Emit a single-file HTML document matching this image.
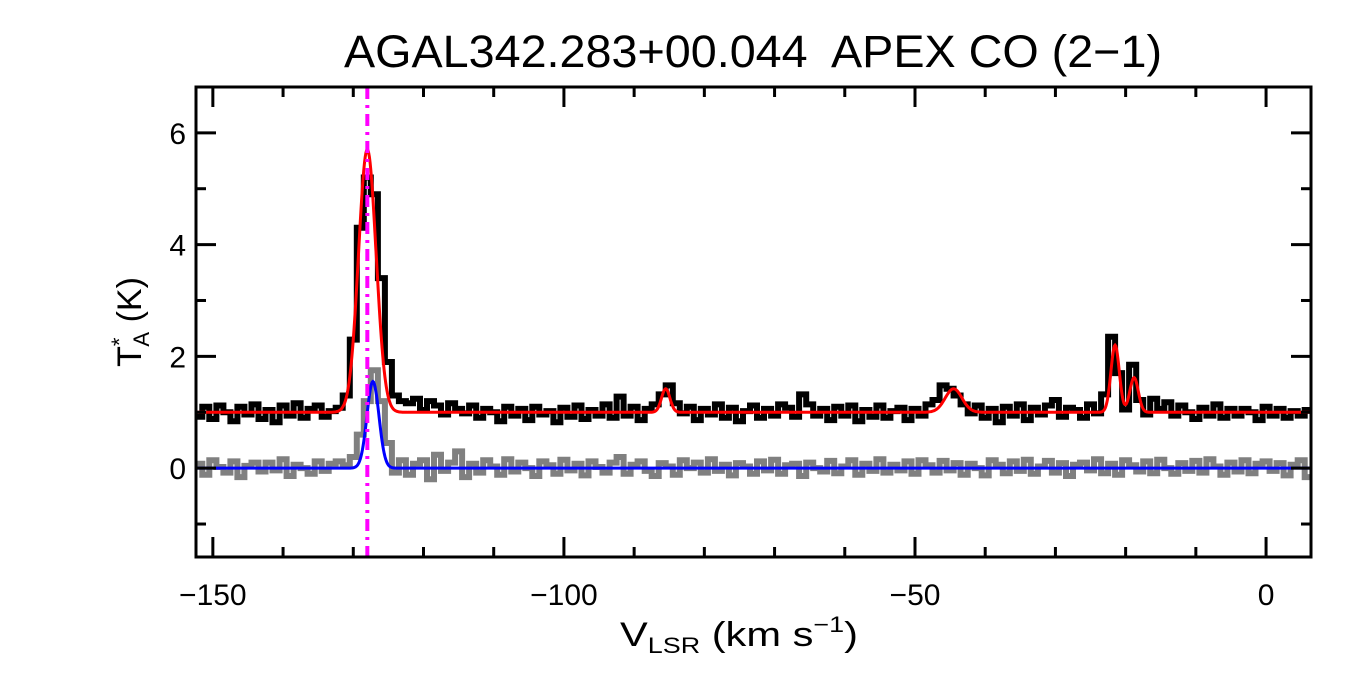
<!DOCTYPE html>
<html><head><meta charset="utf-8"><style>
body{margin:0;background:#fff;}
svg text{font-family:"Liberation Sans",sans-serif;fill:#000;white-space:pre;}
</style></head><body>
<svg id="chart" width="1350" height="675" xmlns="http://www.w3.org/2000/svg" xml:space="preserve">
<text x="753" y="67" font-size="45" text-anchor="middle" textLength="818" lengthAdjust="spacingAndGlyphs">AGAL342.283+00.044  APEX CO (2−1)</text>
<g id="plot"></g>
<text x="620" y="646" font-size="34" textLength="238" lengthAdjust="spacingAndGlyphs">V<tspan font-size="22" dy="7">LSR</tspan><tspan dy="-7"> (km s</tspan><tspan font-size="22" dy="-14">−1</tspan><tspan dy="14">)</tspan></text>
<g transform="translate(141,322) rotate(-90)"><text x="0" y="0" font-size="34" text-anchor="middle">T<tspan font-size="22" dy="-14">*</tspan><tspan font-size="22" dx="-9" dy="22">A</tspan><tspan dy="-8"> (K)</tspan></text></g>
</svg>
<script>
const vStart = -152, vStep = 1;
const blackSpec = [0.92,1.1,0.88,1.12,1.0,0.84,1.1,0.96,1.14,0.88,
1.04,0.82,1.12,0.94,1.16,0.9,1.06,1.12,0.92,1.02,
1.08,1.3,2.3,4.3,5.2,4.9,3.4,1.9,1.3,1.2,
1.16,1.24,1.04,1.2,1.12,0.96,1.16,1.06,0.98,1.12,
0.9,1.06,1.0,0.84,1.1,0.94,1.06,0.86,1.1,0.96,
1.02,0.82,1.08,0.92,1.12,0.88,1.04,0.94,1.14,0.9,
1.28,0.94,1.1,0.86,1.06,1.14,1.32,1.48,1.16,0.98,
1.1,0.86,1.06,0.96,1.14,0.9,1.08,0.84,1.02,1.12,
0.9,1.06,0.94,1.14,1.08,0.92,1.32,1.14,0.94,1.06,
0.86,1.1,0.94,1.12,0.84,1.04,0.92,1.12,0.9,1.02,
1.08,0.86,1.06,0.94,1.14,1.22,1.48,1.42,1.3,1.14,
0.98,1.12,0.9,1.06,0.82,1.1,0.94,1.14,0.86,1.08,
0.96,1.12,1.22,0.92,1.08,1.04,0.9,1.14,0.98,1.32,
2.35,1.7,1.05,1.85,1.22,0.96,1.24,1.06,1.18,0.94,
1.12,1.0,0.88,1.08,0.94,1.14,0.9,1.06,0.94,1.06,
1.0,0.86,1.1,0.94,1.06,0.9,1.02,0.94,1.04];
const graySpec = [0.08,-0.12,0.14,0.02,-0.08,0.12,-0.16,0.04,0.1,-0.06,
0.1,-0.04,0.16,-0.14,0.06,0.0,-0.1,0.12,-0.05,0.08,
0.12,0.05,0.2,0.6,1.2,1.75,1.2,0.45,-0.08,0.14,
-0.12,0.08,0.14,-0.2,0.24,-0.05,0.1,0.3,-0.16,0.08,
-0.08,0.14,0.03,-0.12,0.16,-0.06,0.1,0.0,-0.14,0.12,
0.05,-0.1,0.15,-0.04,0.08,-0.13,0.12,0.02,-0.08,0.1,
0.2,-0.1,0.06,0.12,-0.05,-0.14,0.09,0.03,-0.12,0.14,
0.0,0.1,-0.08,0.16,-0.05,0.06,-0.13,0.09,0.03,-0.1,
0.12,-0.04,0.15,-0.1,0.05,0.08,-0.14,0.1,0.0,-0.06,
0.13,-0.09,0.03,0.14,-0.12,0.08,-0.05,0.16,-0.08,0.06,
-0.04,0.12,-0.1,0.14,0.05,-0.08,0.13,-0.04,0.09,-0.12,
0.08,0.0,-0.13,0.14,0.06,-0.09,0.12,-0.05,0.15,-0.1,
0.03,0.13,-0.08,0.09,-0.14,0.06,0.1,-0.04,0.16,-0.09,
0.08,-0.12,0.14,0.05,-0.06,0.12,-0.09,0.15,0.0,-0.1,
0.09,-0.05,0.13,-0.08,0.16,0.03,-0.12,0.1,-0.06,0.14,
-0.09,0.08,0.12,-0.05,0.09,-0.13,0.06,0.14,-0.16];
const redBase = 1.0;
const redCenters = [-128, -85.5, -44.5, -21.5, -18.8];
const redAmps = [4.7, 0.42, 0.42, 1.2, 0.62];
const redSigmas = [1.25, 0.6, 1.2, 0.6, 0.6];
const blueBase = 0.0;
const blueCenters = [-127.2];
const blueAmps = [1.55];
const blueSigmas = [0.85];
const markerV = -128;
const xTicks = [-150, -100, -50, 0];
const yTicks = [0, 2, 4, 6];

const L=196,R=1311,T=87,B=557, xMin=-152.4, xMax=6.4, yMin=-1.59, yMax=6.82;
const X=v=>L+(v-xMin)/(xMax-xMin)*(R-L);
const Y=t=>B-(t-yMin)/(yMax-yMin)*(B-T);
const NS="http://www.w3.org/2000/svg";
const g=document.getElementById('plot');
function mk(tag,attrs){const e=document.createElementNS(NS,tag);for(const k in attrs)e.setAttribute(k,attrs[k]);g.appendChild(e);return e;}
const clip=document.createElementNS(NS,'clipPath');clip.setAttribute('id','pc');
const cr=document.createElementNS(NS,'rect');cr.setAttribute('x',L);cr.setAttribute('y',T);cr.setAttribute('width',R-L);cr.setAttribute('height',B-T);clip.appendChild(cr);g.appendChild(clip);
function stepPath(arr){let d='';arr.forEach((t,i)=>{const v=vStart+i*vStep;const x0=X(v-vStep/2),x1=X(v+vStep/2),y=Y(t);d+=(i?'L':'M')+x0.toFixed(1)+','+y.toFixed(1)+'L'+x1.toFixed(1)+','+y.toFixed(1);});return d;}
function fitPath(base,cs,as,ss){let d='';for(let v=xMin;v<=xMax;v+=0.1){let t=base;cs.forEach((c,k)=>{t+=as[k]*Math.exp(-0.5*((v-c)/ss[k])**2);});d+=(d?'L':'M')+X(v).toFixed(1)+','+Y(t).toFixed(1);}return d;}
let e;
e=mk('path',{d:stepPath(graySpec),fill:'none',stroke:'#808080','stroke-width':6,'clip-path':'url(#pc)'});


e=mk('path',{d:stepPath(blackSpec),fill:'none',stroke:'#000','stroke-width':6,'clip-path':'url(#pc)'});


e=mk('path',{d:fitPath(blueBase,blueCenters,blueAmps,blueSigmas),fill:'none',stroke:'#0000ff','stroke-width':3,'clip-path':'url(#pc)'});


e=mk('path',{d:fitPath(redBase,redCenters,redAmps,redSigmas),fill:'none',stroke:'#ff0000','stroke-width':3,'clip-path':'url(#pc)'});


e=mk('line',{x1:X(markerV),x2:X(markerV),y1:T,y2:B,stroke:'#ff00ff','stroke-width':4,'stroke-dasharray':'12,6,3,6'});


for(let v=-150;v<=0;v+=10){const big=v%50===0;const len=big?20:10;
mk('line',{x1:X(v),x2:X(v),y1:B,y2:B-len,stroke:'#000','stroke-width':3});
mk('line',{x1:X(v),x2:X(v),y1:T,y2:T+len,stroke:'#000','stroke-width':3});}
for(let t=-1;t<=6;t++){const big=t%2===0;const len=big?20:10;
mk('line',{x1:L,x2:L+len,y1:Y(t),y2:Y(t),stroke:'#000','stroke-width':3});
mk('line',{x1:R,x2:R-len,y1:Y(t),y2:Y(t),stroke:'#000','stroke-width':3});}
xTicks.forEach(v=>{e=mk('text',{x:X(v),y:605,'font-size':30,'text-anchor':'middle'});e.textContent=v<0?'−'+(-v):''+v;

});
yTicks.forEach(t=>{e=mk('text',{x:186,y:Y(t)+11,'font-size':30,'text-anchor':'end'});e.textContent=''+t;

});
e=mk('rect',{x:L,y:T,width:R-L,height:B-T,fill:'none',stroke:'#000','stroke-width':3});


</script>
</body></html>
